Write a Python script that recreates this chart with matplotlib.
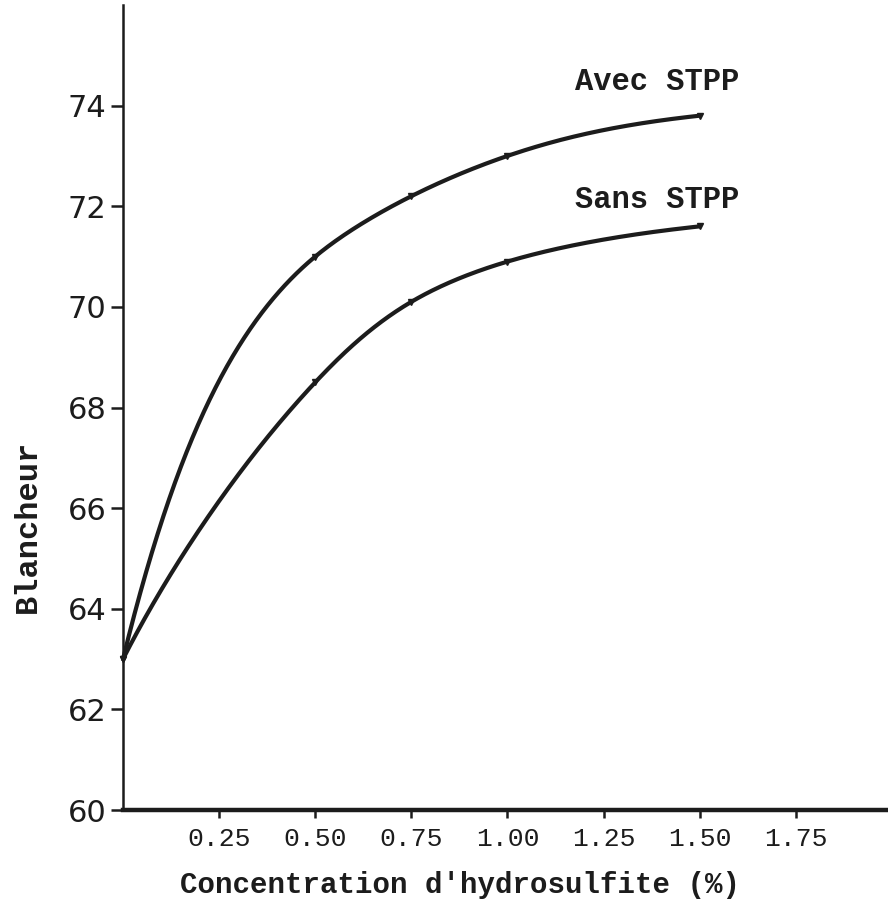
import numpy as np
import matplotlib
matplotlib.use("Agg")
import matplotlib.pyplot as plt

# concentration d'hydrosulfite (%) et blancheur mesuree
concentration = [0.0, 0.5, 0.75, 1.0, 1.5]
blancheur_avec = [63.0, 71.0, 72.2, 73.0, 73.8]
blancheur_sans = [63.0, 68.5, 70.1, 70.9, 71.6]

yticks = [60, 62, 64, 66, 68, 70, 72, 74]
xticks = [0.25, 0.50, 0.75, 1.00, 1.25, 1.50, 1.75]

ENCRE = "#1c1c1c"
MONO = "Liberation Mono"


def spline_naturelle(x, y, xs):
    # spline cubique naturelle (derivee seconde nulle aux extremites)
    x = np.asarray(x, float)
    y = np.asarray(y, float)
    n = len(x)
    h = np.diff(x)
    A = np.zeros((n, n))
    r = np.zeros(n)
    A[0, 0] = A[-1, -1] = 1.0
    for i in range(1, n - 1):
        A[i, i - 1] = h[i - 1]
        A[i, i] = 2 * (h[i - 1] + h[i])
        A[i, i + 1] = h[i]
        r[i] = 6 * ((y[i + 1] - y[i]) / h[i] - (y[i] - y[i - 1]) / h[i - 1])
    M = np.linalg.solve(A, r)
    i = np.clip(np.searchsorted(x, xs) - 1, 0, n - 2)
    a = x[i + 1] - xs
    b = xs - x[i]
    return (M[i] * a**3 / (6 * h[i]) + M[i + 1] * b**3 / (6 * h[i])
            + (y[i] / h[i] - M[i] * h[i] / 6) * a
            + (y[i + 1] / h[i] - M[i + 1] * h[i] / 6) * b)


def courbe(x, y, xs):
    # on cherche k tel que y soit ~lineaire en exp(-k x),
    # puis on interpole dans cette variable (courbe lisse de saturation)
    x = np.asarray(x, float)
    y = np.asarray(y, float)
    best = None
    for k in np.linspace(0.5, 6.0, 551):
        e = np.exp(-k * x)
        coef = np.polyfit(e, y, 1)
        err = np.sum((np.polyval(coef, e) - y) ** 2)
        if best is None or err < best[0]:
            best = (err, k)
    k = best[1]
    u = np.exp(-k * x)[::-1]
    return spline_naturelle(u, y[::-1], np.exp(-k * xs))


fig = plt.figure(figsize=(8.88, 9.09), dpi=100)
ax = fig.add_axes([123 / 888, 99 / 909, 765 / 888, 805 / 909])

xs = np.linspace(concentration[0], concentration[-1], 400)
for serie in (blancheur_avec, blancheur_sans):
    ax.plot(xs, courbe(concentration, serie, xs), color=ENCRE, lw=3.0,
            solid_capstyle="round", clip_on=False)
    ax.plot(concentration, serie, ls="none", marker="v", ms=5,
            color=ENCRE, clip_on=False)

ax.text(1.177, 74.47, "Avec STPP", family=MONO, fontsize=22, color=ENCRE,
        fontweight="bold", va="center", ha="left")
ax.text(1.177, 72.13, "Sans STPP", family=MONO, fontsize=22, color=ENCRE,
        fontweight="bold", va="center", ha="left")

ax.set_xlim(0, 1.99)
ax.set_ylim(60, 76)

for cote in ("top", "right"):
    ax.spines[cote].set_visible(False)
ax.spines["left"].set_linewidth(1.8)
ax.spines["bottom"].set_linewidth(3.2)
ax.spines["left"].set_color(ENCRE)
ax.spines["bottom"].set_color(ENCRE)

ax.set_yticks(yticks)
ax.set_yticklabels([str(v) for v in yticks], fontsize=22, family="DejaVu Sans",
                   color=ENCRE)
ax.set_xticks(xticks)
ax.set_xticklabels(["%.2f" % v for v in xticks], fontsize=19, family=MONO,
                   color=ENCRE)
ax.tick_params(axis="y", direction="out", length=9, width=1.8, pad=3,
               color=ENCRE)
ax.tick_params(axis="x", direction="out", length=6, width=1.8, pad=6,
               color=ENCRE)

ax.set_xlabel("Concentration d'hydrosulfite (%)", family=MONO, fontsize=21,
              fontweight="bold", color=ENCRE)
ax.xaxis.set_label_coords(0.44, -0.093)
ax.xaxis.label.set_verticalalignment("center")

ax.set_ylabel("Blancheur", family=MONO, fontsize=23, fontweight="bold",
              color=ENCRE)
ax.yaxis.set_label_coords(-0.124, 0.352)
ax.yaxis.label.set_verticalalignment("center")

fig.savefig("out.png", dpi=100)
